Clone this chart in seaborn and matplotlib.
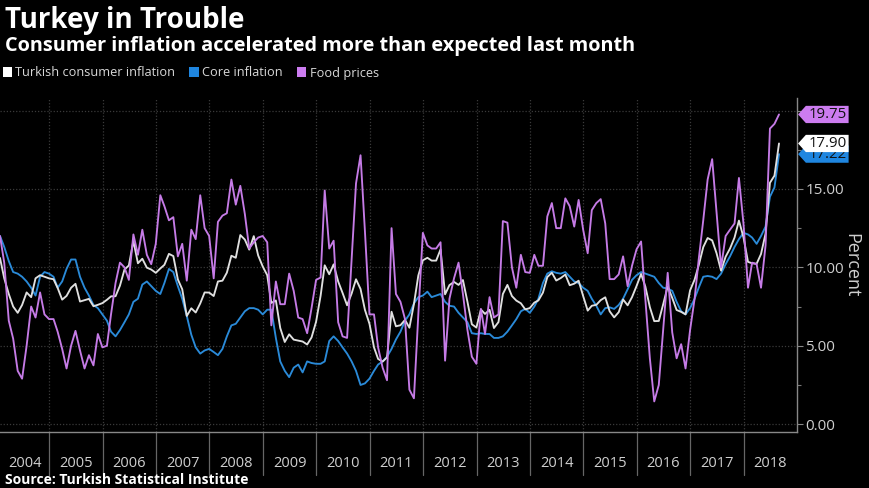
import numpy as np
import pandas as pd
import matplotlib
matplotlib.use("Agg")
import matplotlib.pyplot as plt
import seaborn as sns
from matplotlib.path import Path
from matplotlib.patches import Patch
from matplotlib.transforms import blended_transform_factory

# ---------------- data (monthly, Jan 2004 - Aug 2018, % y/y) ----------------
series_names = ["Turkish consumer inflation", "Core inflation", "Food prices"]
years = list(range(2004, 2019))

cpi = [
    10.6, 9.3, 8.3, 7.5, 7.1, 7.6, 8.4, 8.1, 9.3, 9.5, 9.4, 9.3,
    9.24, 8.69, 7.94, 8.18, 8.70, 8.95, 7.82, 7.91, 7.99, 7.52, 7.61, 7.72,
    7.93, 8.15, 8.16, 8.83, 9.86, 10.12, 11.69, 10.26, 10.55, 9.98, 9.86, 9.65,
    9.93, 10.16, 10.86, 10.72, 9.23, 8.60, 6.90, 7.39, 7.12, 7.70, 8.40, 8.39,
    8.17, 9.10, 9.15, 9.66, 10.74, 10.61, 12.06, 11.77, 11.13, 11.99, 10.76, 10.06,
    9.50, 7.73, 7.89, 6.13, 5.24, 5.73, 5.39, 5.33, 5.27, 5.08, 5.53, 6.53,
    8.19, 10.13, 9.56, 10.19, 9.10, 8.37, 7.58, 8.33, 9.24, 8.62, 7.29, 6.40,
    4.90, 4.16, 3.99, 4.26, 7.17, 6.24, 6.31, 6.65, 6.15, 7.66, 9.48, 10.45,
    10.61, 10.43, 10.43, 11.14, 8.28, 8.87, 9.07, 8.88, 9.19, 7.80, 6.37, 6.16,
    7.31, 7.03, 7.29, 6.13, 6.51, 8.30, 8.88, 8.17, 7.88, 7.71, 7.32, 7.40,
    7.75, 7.89, 8.39, 9.38, 9.66, 9.16, 9.32, 9.54, 8.86, 8.96, 9.15, 8.17,
    7.24, 7.55, 7.61, 7.91, 8.09, 7.20, 6.81, 7.14, 7.95, 7.58, 8.10, 8.81,
    9.58, 8.78, 7.46, 6.57, 6.58, 7.64, 8.79, 8.05, 7.28, 7.16, 7.00, 8.53,
    9.22, 10.13, 11.29, 11.87, 11.72, 10.90, 9.79, 10.68, 11.20, 11.90, 12.98, 11.92,
    10.35, 10.26, 10.23, 10.85, 12.15, 15.39, 15.85, 17.90,
]

core = [
    12.0, 11.3, 10.4, 9.7, 9.6, 9.4, 9.1, 8.7, 8.2, 9.4, 9.7, 9.6,
    9.4, 8.7, 9.1, 9.9, 10.5, 10.5, 9.4, 8.7, 8.2, 7.6, 7.4, 7.0,
    6.6, 5.9, 5.6, 6.0, 6.5, 7.0, 7.8, 8.0, 8.9, 9.1, 8.8, 8.5,
    8.3, 9.0, 9.9, 9.7, 8.8, 8.0, 6.9, 5.7, 4.9, 4.5, 4.7, 4.8,
    4.6, 4.4, 4.8, 5.6, 6.3, 6.4, 6.8, 7.2, 7.4, 7.4, 7.3, 7.0,
    7.3, 7.3, 5.5, 4.0, 3.4, 3.0, 3.6, 3.8, 3.3, 4.0, 3.9, 3.85,
    3.85, 4.0, 5.3, 5.6, 5.3, 4.9, 4.5, 4.0, 3.4, 2.5, 2.6, 2.9,
    3.4, 3.8, 4.0, 4.3, 4.8, 5.4, 5.9, 6.6, 7.0, 7.7, 8.1, 8.2,
    8.45, 8.1, 8.2, 8.3, 7.8, 7.55, 7.5, 7.1, 6.8, 6.5, 5.8, 5.75,
    5.8, 5.75, 5.75, 5.5, 5.5, 5.6, 5.9, 6.3, 6.7, 7.2, 7.35, 7.1,
    7.5, 8.0, 9.0, 9.6, 9.75, 9.65, 9.6, 9.7, 9.4, 9.1, 9.0, 8.7,
    8.5, 8.0, 7.55, 7.0, 7.4, 7.45, 7.35, 7.6, 8.0, 8.6, 9.2, 9.5,
    9.7, 9.6, 9.5, 9.4, 9.0, 8.7, 8.65, 8.5, 7.8, 7.2, 7.0, 7.4,
    8.0, 8.7, 9.4, 9.45, 9.4, 9.25, 9.6, 10.2, 10.7, 11.3, 11.8, 12.2,
    12.1, 11.9, 11.5, 12.0, 12.6, 14.5, 15.1, 17.22,
]

food = [
    12.0, 10.3, 6.6, 5.45, 3.4, 2.9, 5.0, 7.5, 6.8, 8.4, 7.0, 6.7,
    6.7, 5.9, 4.8, 3.55, 5.0, 5.95, 4.7, 3.55, 4.4, 3.75, 5.75, 4.9,
    5.0, 7.0, 9.0, 10.3, 10.0, 9.2, 12.1, 10.8, 12.4, 10.8, 10.2, 11.5,
    14.6, 13.9, 13.0, 13.2, 10.7, 11.5, 9.15, 12.4, 11.8, 14.6, 12.5, 12.0,
    9.3, 12.9, 13.3, 13.45, 15.6, 14.0, 15.2, 13.4, 11.2, 11.6, 11.9, 12.0,
    11.6, 6.3, 9.1, 7.65, 7.65, 9.6, 8.5, 6.8, 6.7, 5.8, 7.4, 9.2,
    9.35, 14.9, 11.2, 11.7, 6.5, 5.6, 5.5, 10.5, 15.35, 17.15, 12.3, 7.0,
    7.0, 4.9, 3.6, 2.8, 12.5, 8.3, 7.8, 6.7, 2.2, 1.65, 7.0, 12.2,
    11.4, 11.2, 11.2, 11.6, 4.05, 8.0, 9.3, 10.3, 8.3, 6.0, 4.3, 3.85,
    7.35, 5.75, 8.1, 6.8, 7.0, 12.95, 12.85, 10.0, 8.7, 10.8, 9.7, 9.65,
    10.8, 10.1, 10.1, 13.25, 14.1, 12.5, 12.5, 14.4, 13.9, 12.6, 14.3, 12.4,
    10.9, 13.65, 14.1, 14.35, 12.8, 9.25, 9.25, 9.55, 10.7, 8.8, 10.1, 11.15,
    11.65, 8.0, 4.2, 1.45, 2.5, 6.0, 9.65, 5.85, 4.2, 5.1, 3.55, 6.0,
    8.0, 10.5, 13.0, 15.6, 16.9, 13.5, 10.0, 12.0, 12.4, 12.8, 15.7, 12.8,
    8.7, 10.3, 10.2, 8.7, 11.4, 18.85, 19.15, 19.75,
]

last_labels = ["17.90", "17.22", "19.75"]
ytick_values = [0, 5, 10, 15, 20]
ytick_labels = ["0.00", "5.00", "10.00", "15.00", ""]

colors = {"Turkish consumer inflation": "#e0e0e0",
          "Core inflation": "#2a8ad8",
          "Food prices": "#c57be6"}
legend_colors = {"Turkish consumer inflation": "#ffffff",
                 "Core inflation": "#1f86e0",
                 "Food prices": "#cc7cf0"}

dates = pd.date_range("2004-01-31", periods=len(cpi), freq="ME")
df = pd.DataFrame({"date": dates,
                   series_names[0]: cpi,
                   series_names[1]: core,
                   series_names[2]: food})
long = df.melt(id_vars="date", var_name="series", value_name="value")

# ---------------- style ----------------
sns.set_theme(style="dark")
plt.rcParams["font.family"] = ["Open Sans", "DejaVu Sans"]
plt.rcParams["axes.facecolor"] = "black"
plt.rcParams["figure.facecolor"] = "black"
plt.rcParams["savefig.facecolor"] = "black"

W, H = 870, 488
fig = plt.figure(figsize=(W / 100, H / 100), dpi=100)
ax_right_px, ax_top_px, ax_bot_px = 797, 98, 432
ax = fig.add_axes([0, 1 - ax_bot_px / H, ax_right_px / W, (ax_bot_px - ax_top_px) / H])
ax.set_facecolor("black")

sns.lineplot(data=long, x="date", y="value", hue="series",
             hue_order=["Core inflation", "Turkish consumer inflation", "Food prices"],
             palette=colors, linewidth=1.35, legend=False, ax=ax)

xmin = dates[0]
xmax = pd.Timestamp("2019-01-01")
ax.set_xlim(xmin, xmax)
ax.set_ylim(-0.5, 20.8)
ax.set_xlabel("")

# horizontal grid (dotted)
for v in ytick_values:
    ax.axhline(v, color="#3a3a3a", lw=0.9, ls=(0, (1, 1.5)), zorder=0)
# vertical year grid (dotted) and separators below axis
sep_tr = blended_transform_factory(ax.transData, ax.transAxes)
for yr in years[1:]:
    xd = pd.Timestamp(f"{yr}-01-01")
    ax.axvline(xd, color="#3a3a3a", lw=0.9, ls=(0, (1, 1.5)), zorder=0)
    ax.plot([xd, xd], [0, -0.13], color="#666666", lw=0.9,
            transform=sep_tr, clip_on=False)

# year labels centred in each visible year span
for yr in years:
    a = max(pd.Timestamp(f"{yr}-01-01"), xmin)
    b = min(pd.Timestamp(f"{yr + 1}-01-01"), xmax)
    mid = a + (b - a) / 2
    ax.text(mid, -0.093, str(yr), transform=sep_tr, ha="center", va="center",
            color="#cfcfcf", fontsize=10.5)

ax.set_xticks([])

# right axis
ax.yaxis.tick_right()
ax.set_yticks(ytick_values)
ax.set_yticklabels(ytick_labels)
ax.set_yticks([2.5, 7.5, 12.5, 17.5], minor=True)
ax.tick_params(axis="y", which="major", direction="out", length=4, width=0.8,
               color="#888888", labelcolor="#cfcfcf", labelsize=11, pad=2,
               right=True, left=False)
ax.tick_params(axis="y", which="minor", direction="out", length=3, width=0.8,
               color="#777777", right=True, left=False)
ax.yaxis.set_label_position("right")
ax.set_ylabel("Percent", color="#cfcfcf", fontsize=13, rotation=270, labelpad=12)

for side in ["top", "left"]:
    ax.spines[side].set_visible(False)
ax.spines["right"].set_color("#888888")
ax.spines["right"].set_linewidth(1.0)
ax.spines["bottom"].set_color("#888888")
ax.spines["bottom"].set_linewidth(1.0)


# value tags
def tag_box(x0, y0, width, height, mutation_size):
    pad = 0.15 * mutation_size
    x0 -= pad
    y0 -= pad * 0.5
    width += 2 * pad
    height += 1.0 * pad
    tip = height * 0.45
    verts = [(x0, y0), (x0 + width, y0), (x0 + width, y0 + height),
             (x0, y0 + height), (x0 - tip, y0 + height / 2), (x0, y0)]
    return Path(verts, closed=True)


last_vals = {series_names[0]: cpi[-1], series_names[1]: core[-1], series_names[2]: food[-1]}
lab_map = dict(zip(series_names, last_labels))
for name in ["Core inflation", "Turkish consumer inflation", "Food prices"]:
    ax.annotate(lab_map[name], xy=(1, last_vals[name]),
                xycoords=("axes fraction", "data"),
                xytext=(8, 0), textcoords="offset points",
                ha="left", va="center", fontsize=10.8, color="#111111",
                bbox=dict(boxstyle=tag_box, fc=legend_colors[name], ec="none"),
                annotation_clip=False)

# titles
fig.text(0.006, 1 - 28 / H, "Turkey in Trouble", color="white",
         fontsize=20, fontweight="bold", ha="left", va="baseline")
fig.text(0.006, 1 - 51 / H, "Consumer inflation accelerated more than expected last month",
         color="white", fontsize=14.3, fontweight="bold", ha="left", va="baseline")

handles = [Patch(facecolor=legend_colors[n], edgecolor="none", label=n) for n in series_names]
leg = fig.legend(handles=handles, loc="center left", bbox_to_anchor=(0.0, 1 - 73 / H),
                 ncol=3, frameon=False, fontsize=9.2, handlelength=0.75, handleheight=0.75,
                 handletextpad=0.25, columnspacing=1.1, borderaxespad=0, borderpad=0.2)
for t in leg.get_texts():
    t.set_color("#d8d8d8")

fig.text(0.006, 1 - 480 / H, "Source: Turkish Statistical Institute", color="white",
         fontsize=10, fontweight="bold", ha="left", va="center")

fig.savefig("out.png", dpi=100, facecolor="black")
